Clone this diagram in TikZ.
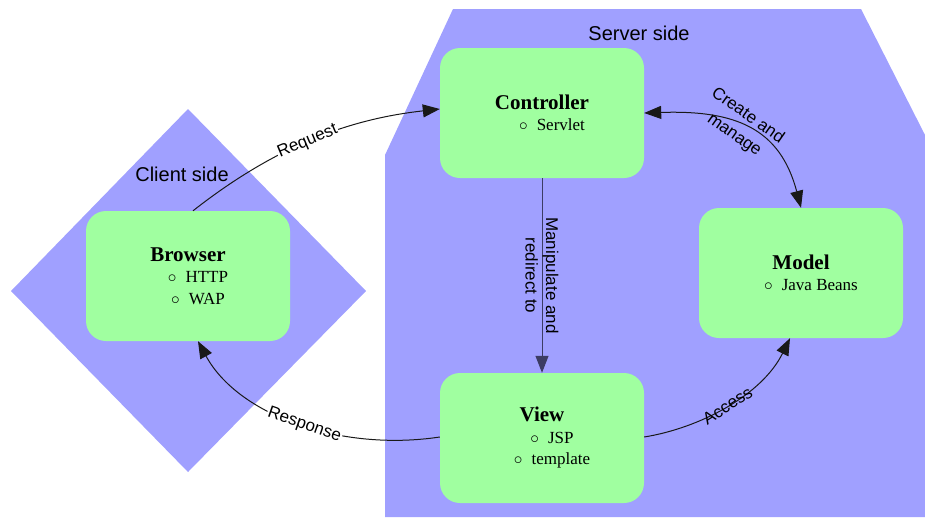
\documentclass[tikz,border=0pt]{standalone}
\usepackage{fontspec}
\setmainfont{Liberation Serif}
\newfontfamily\lsans{Liberation Sans}
\usetikzlibrary{arrows.meta,calc}
\definecolor{regblue}{RGB}{160,160,255}
\definecolor{boxgreen}{RGB}{160,255,160}
\definecolor{vline}{RGB}{60,60,100}
\newcommand\itm[1]{\hspace*{20pt}$\circ$\hspace{9pt}#1}
\newcommand\ttl[1]{{\fontsize{21}{25}\selectfont\bfseries #1}}
\begin{document}
\begin{tikzpicture}[x=1pt,y=-1pt,
  box/.style={fill=boxgreen, rounded corners=20pt, minimum width=204pt, minimum height=130pt,
    inner sep=0pt, align=center, font=\fontsize{17}{21.5}\selectfont},
  conn/.style={line width=1pt, draw=black!90},
  tipend/.style={-{Triangle[length=17pt,width=13pt]}},
  tipboth/.style={{Triangle[length=17pt,width=13pt]}-{Triangle[length=17pt,width=13pt]}},
  lbl/.style={font=\lsans\fontsize{17}{20.5}\selectfont, inner sep=1pt},
  region/.style={font=\lsans\fontsize{20}{24}\selectfont, inner sep=0pt}
]
\useasboundingbox (0,0) rectangle (925,517);
% regions
\fill[regblue] (188,109) -- (366,291) -- (188,472) -- (11,291) -- cycle;
\fill[regblue] (453,9) -- (861,9) -- (925,135) -- (925,517) -- (385,517) -- (385,155) -- cycle;
\node[region] (client) at (182,174) {Client side};
\node[region] (server) at (639,33) {Server side};
% boxes
\node[box] (browser) at (188,276) {\ttl{Browser}\\ \itm{HTTP}\\ \itm{WAP}};
\node[box] (ctrl) at (542,113) {\ttl{Controller}\\ \itm{Servlet}};
\node[box] (model) at (801,273) {\ttl{Model}\\ \itm{Java Beans}};
\node[box] (view) at (542,438) {\ttl{View}\\ \itm{JSP}\\ \itm{template}};
% connectors
\draw[conn,tipend] ($(browser.north)+(5,0)$) .. controls (283,140) and (359,118) .. ($(ctrl.west)+(0,-4)$)
  node[lbl,pos=0.45,sloped,fill=white] {Request};
\draw[conn,tipend] ($(view.west)+(0,-1)$) .. controls (340,452) and (238,415) .. ($(browser.south)+(10,0)$)
  node[lbl,pos=0.47,sloped,fill=white] {Response};
\draw[conn,tipboth] (ctrl.east) .. controls (735,110) and (780,128) .. (model.north)
  node[lbl,pos=0.45,rotate=-35,align=center] {Create and\\[3pt]manage};
\draw[conn,draw=vline,tipend] (ctrl.south) -- (view.north)
  node[lbl,midway,rotate=-90,align=center] {Manipulate and\\redirect to};
\draw[conn,tipend] ($(view.east)+(0,-1)$) .. controls (700,428) and (762,395) .. ($(model.south)+(-11,0)$)
  node[lbl,pos=0.5,sloped] {Access};
\end{tikzpicture}
\end{document}
